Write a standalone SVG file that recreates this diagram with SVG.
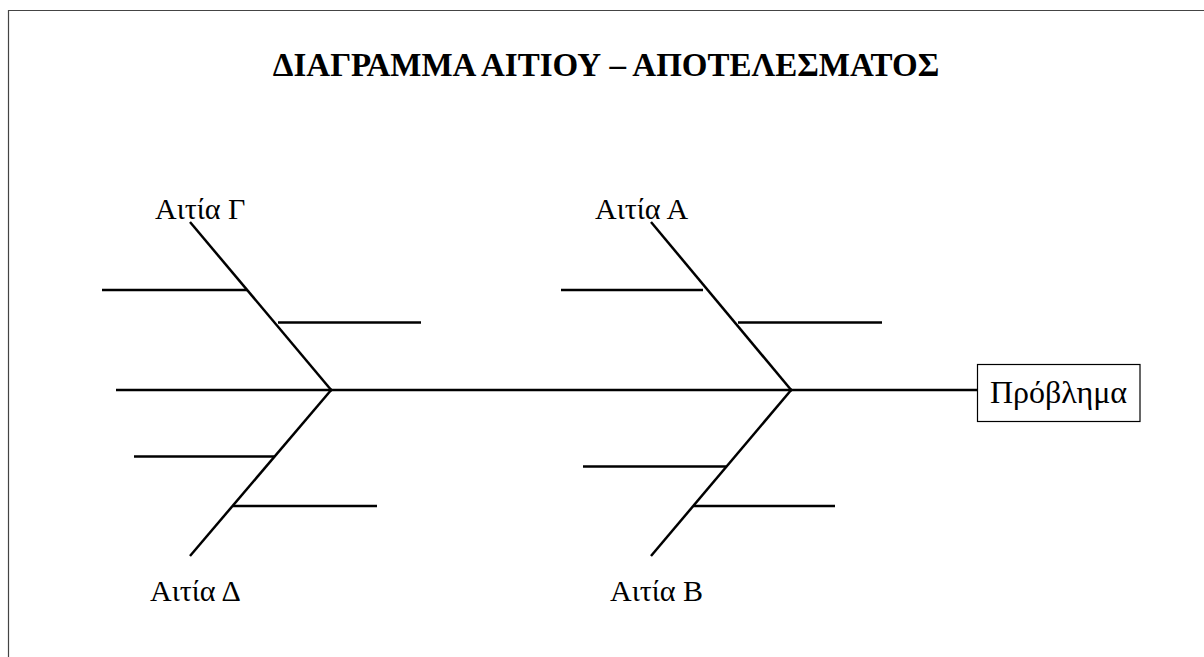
<svg xmlns="http://www.w3.org/2000/svg" width="1204" height="657" viewBox="0 0 1204 657">
<style>
.ln{stroke:#000;stroke-width:2.5;fill:none}
.lbl{font-family:"Liberation Serif","DejaVu Serif",serif;font-size:30px;fill:#000}
.big{font-size:32px}
.ttl{font-family:"Liberation Serif","DejaVu Serif",serif;font-size:33px;font-weight:bold;fill:#000}
</style>
<rect x="0" y="0" width="1204" height="657" fill="#fff"/>
<path d="M8.5,657 V10.5 H1204" fill="none" stroke="#444" stroke-width="1.2"/>
<text class="ttl" x="606" y="76" text-anchor="middle">ΔΙΑΓΡΑΜΜΑ ΑΙΤΙΟΥ – ΑΠΟΤΕΛΕΣΜΑΤΟΣ</text>
<g id="connectors">
<line class="ln" x1="116" y1="390" x2="977" y2="390"/>
<line class="ln" x1="190" y1="222" x2="332" y2="391"/>
<line class="ln" x1="332" y1="389" x2="190" y2="556"/>
<line class="ln" x1="102" y1="290" x2="247" y2="290"/>
<line class="ln" x1="278" y1="322.5" x2="421" y2="322.5"/>
<line class="ln" x1="134" y1="456.5" x2="275" y2="456.5"/>
<line class="ln" x1="233" y1="506" x2="377" y2="506"/>
<line class="ln" x1="651" y1="222" x2="792" y2="391"/>
<line class="ln" x1="792" y1="389" x2="651" y2="556"/>
<line class="ln" x1="561" y1="290" x2="703" y2="290"/>
<line class="ln" x1="738" y1="322.5" x2="882" y2="322.5"/>
<line class="ln" x1="583" y1="466.5" x2="727" y2="466.5"/>
<line class="ln" x1="693" y1="506" x2="835" y2="506"/>
</g>
<g id="cause-c"><text class="lbl" x="155" y="219">Αιτία Γ</text></g>
<g id="cause-d"><text class="lbl" x="150" y="601">Αιτία Δ</text></g>
<g id="cause-a"><text class="lbl" x="595" y="219">Αιτία Α</text></g>
<g id="cause-b"><text class="lbl" x="610" y="601">Αιτία Β</text></g>
<g id="problem">
<rect x="977.5" y="364.5" width="162.5" height="57" fill="#fff" stroke="#000" stroke-width="1.2"/>
<text class="lbl big" x="1058.5" y="403" text-anchor="middle">Πρόβλημα</text>
</g>
</svg>
